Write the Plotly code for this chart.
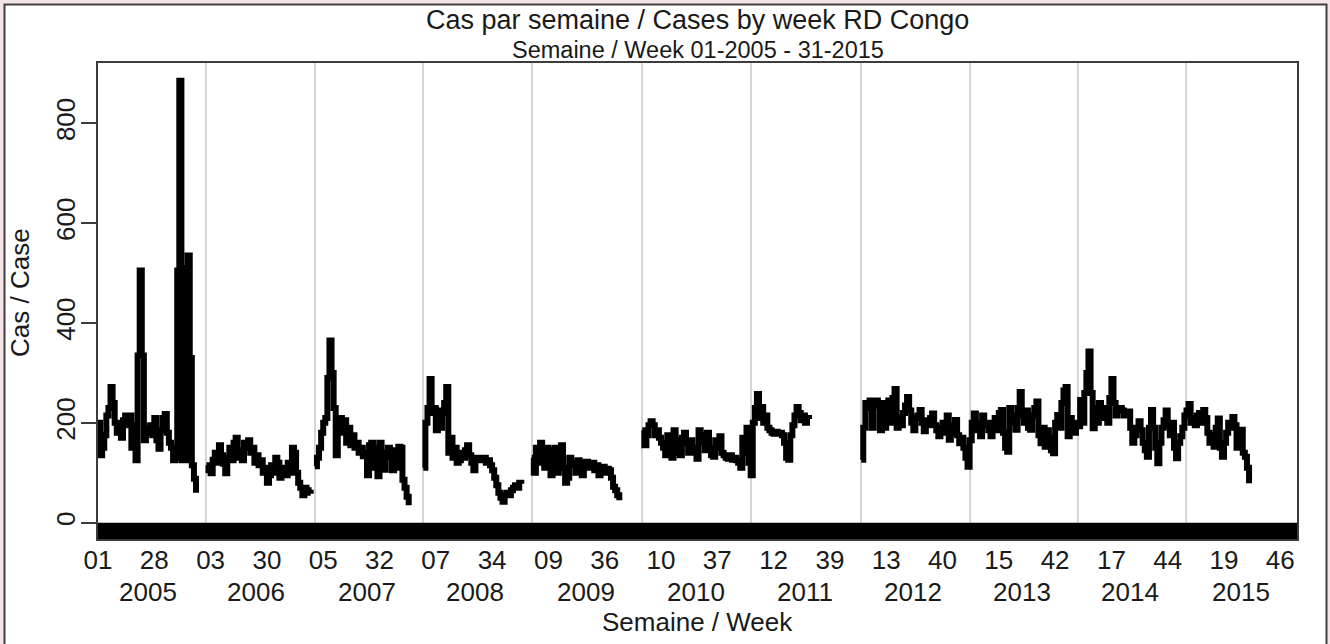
import plotly.graph_objects as go

# ---------------- data ----------------
years = ["2005", "2006", "2007", "2008", "2009", "2010",
         "2011", "2012", "2013", "2014", "2015"]
year_start_week = [0, 52, 104, 156, 208, 261, 313, 366, 418, 470, 522]
year_label_week = [24, 76, 129, 181, 234, 287, 339, 391, 443, 495, 548]

week_tick_pos = [0, 27, 54, 81, 108, 135, 162, 189, 216, 243, 270,
                 297, 324, 351, 378, 405, 432, 459, 486, 513, 540, 567]
week_tick_text = ["01", "28", "03", "30", "05", "32", "07", "34", "09", "36", "10",
                  "37", "12", "39", "13", "40", "15", "42", "17", "44", "19", "46"]

cases_2005 = [200, 135, 150, 175, 215, 230, 272, 240, 200, 180,
              200, 170, 205, 215, 195, 215, 150, 195, 125, 335,
              505, 335, 165, 190, 180, 195, 175, 210, 165, 148,
              185, 210, 218, 180, 160, 150, 125, 130, 505, 885,
              125, 510, 125, 535, 330, 115, 88, 60, None, None, None, None]
cases_2006 = [115, 105, 99, 126, 140, 120, 155, 135, 118, 99,
              130, 150, 125, 160, 170, 130, 145, 125, 160, 150,
              165, 140, 150, 120, 135, 115, 125, 100, 110, 80,
              95, 115, 100, 130, 120, 90, 105, 110, 95, 120,
              100, 150, 140, 100, 80, 70, 55, 70, 65, 60,
              58, None]
cases_2007 = [113, 130, 150, 180, 200, 210, 290, 365, 300, 230,
              135, 200, 210, 180, 205, 160, 190, 155, 175, 150,
              160, 140, 150, 133, 140, 95, 155, 160, 110, 150,
              93, 160, 120, 106, 140, 150, 132, 105, 145, 110,
              152, 150, 86, 70, 52, 35, None, None, None, None, None, None]
cases_2008 = [110, 200, 230, 288, 220, 230, 185, 225, 190, 220,
              240, 272, 140, 170, 130, 150, 120, 125, 140, 130,
              145, 155, 135, 120, 105, 130, 125, 130, 125, 130,
              120, 125, 115, 105, 90, 75, 60, 50, 42, 55,
              60, 55, 65, 70, 75, 70, 80, 78, None, None, None, None]
cases_2009 = [130, 100, 150, 120, 160, 145, 110, 150, 140, 95,
              145, 150, 100, 150, 155, 110, 80, 90, 130, 115,
              120, 100, 125, 118, 95, 120, 122, 110, 118, 120,
              105, 115, 95, 110, 112, 100, 108, 105, 90, 72,
              65, 55, 45, None, None, None, None, None, None, None,
              None, None, None]
cases_2010 = [185, 155, 175, 195, 203, 195, 175, 185, 170, 160,
              150, 135, 175, 140, 130, 185, 165, 140, 135, 170,
              180, 160, 140, 165, 150, 140, 128, 185, 160, 175,
              145, 180, 150, 135, 132, 165, 150, 173, 140, 135,
              130, 128, 135, 126, 130, 125, 120, 110, 170, 140,
              190, 120]
cases_2011 = [95, 200, 230, 258, 210, 232, 200, 215, 190, 185,
              180, 178, 182, 178, 180, 175, 160, 130, 126, 175,
              195, 215, 232, 220, 205, 215, 200, 210, 208, None,
              None, None, None, None, None, None, None, None, None, None,
              None, None, None, None, None, None, None, None, None, None,
              None, None, None]
cases_2012 = [126, 190, 240, 230, 245, 190, 240, 245, 235, 185,
              240, 190, 230, 245, 200, 250, 268, 190, 210, 195,
              220, 235, 252, 225, 200, 185, 210, 215, 226, 200,
              183, 205, 195, 210, 219, 195, 185, 173, 190, 200,
              180, 215, 166, 195, 180, 206, 175, 159, 170, 150,
              130, 112]
cases_2013 = [165, 200, 219, 185, 200, 173, 215, 195, 200, 185,
              173, 200, 210, 185, 220, 226, 180, 150, 142, 230,
              215, 200, 186, 230, 262, 215, 200, 225, 190, 186,
              215, 230, 243, 175, 159, 190, 152, 185, 170, 145,
              139, 200, 216, 190, 240, 265, 272, 173, 210, 195,
              180, 200]
cases_2014 = [193, 246, 200, 260, 300, 343, 260, 189, 230, 200,
              240, 210, 220, 230, 200, 250, 288, 240, 215, 225,
              230, 225, 215, 220, 223, 190, 160, 175, 190, 203,
              185, 160, 145, 132, 190, 226, 190, 150, 119, 160,
              190, 205, 225, 195, 175, 200, 150, 129, 160, 173,
              190, 215]
cases_2015 = [225, 238, 200, 210, 195, 215, 220, 200, 226, 210,
              180, 160, 175, 152, 190, 209, 150, 132, 160, 180,
              200, 190, 212, 195, 150, 170, 186, 140, 132, 110,
              79]

y_tick_vals = [0, 200, 400, 600, 800]

# ---------------- build ----------------
cases = (cases_2005 + cases_2006 + cases_2007 + cases_2008 + cases_2009 +
         cases_2010 + cases_2011 + cases_2012 + cases_2013 + cases_2014 +
         cases_2015)
weeks = list(range(len(cases)))

W, H = 1330, 644
L, R, T, B = 98, 33, 63, 105
PW, PH = W - L - R, H - T - B


def px_x(px):
    return (px - L) / PW


def px_y(py):
    return (H - B - py) / PH


FONT = "Liberation Sans, Arial, sans-serif"
TXT = "#1a1a1a"
FRAME = "#3c3c3c"

fig = go.Figure()
fig.add_trace(go.Scatter(
    x=weeks, y=cases, mode="lines",
    line=dict(color="black", width=6, shape="hv"),
    connectgaps=False, hoverinfo="skip", showlegend=False,
))

shapes = [
    # outer white panel with dark border
    dict(type="rect", xref="paper", yref="paper",
         x0=px_x(4.5), x1=px_x(1326.5), y0=px_y(700), y1=px_y(4.5),
         fillcolor="white", line=dict(color="#404040", width=2), layer="below"),
    # black baseline band below zero
    dict(type="rect", xref="paper", yref="y",
         x0=0, x1=1, y0=-60, y1=0,
         fillcolor="black", line=dict(width=0), layer="above"),
]

annotations = [
    dict(text="Cas par semaine / Cases by week RD Congo", xref="paper", yref="paper",
         x=0.5, y=px_y(20), xanchor="center", yanchor="middle", showarrow=False,
         font=dict(size=27, color=TXT, family=FONT)),
    dict(text="Semaine / Week 01-2005 - 31-2015", xref="paper", yref="paper",
         x=0.5, y=px_y(50), xanchor="center", yanchor="middle", showarrow=False,
         font=dict(size=23.5, color=TXT, family=FONT)),
    dict(text="Semaine / Week", xref="paper", yref="paper",
         x=0.5, y=px_y(622), xanchor="center", yanchor="middle", showarrow=False,
         font=dict(size=26, color=TXT, family=FONT)),
    dict(text="Cas / Case", xref="paper", yref="paper", textangle=-90,
         x=px_x(20), y=px_y(292), xanchor="center", yanchor="middle", showarrow=False,
         font=dict(size=26, color=TXT, family=FONT)),
]
for yl, wk in zip(years, year_label_week):
    annotations.append(dict(
        text=yl, xref="x", yref="paper", x=wk, y=px_y(592),
        xanchor="center", yanchor="middle", showarrow=False,
        font=dict(size=26, color=TXT, family=FONT)))

fig.update_layout(
    width=W, height=H,
    margin=dict(l=L, r=R, t=T, b=B, pad=0),
    paper_bgcolor="#f3e5e5",
    plot_bgcolor="white",
    font=dict(family=FONT, color=TXT, size=26),
    shapes=shapes,
    annotations=annotations,
    showlegend=False,
    xaxis=dict(
        range=[0, 575], tickmode="array", tickvals=week_tick_pos, ticktext=week_tick_text,
        ticks="", showgrid=False, zeroline=False,
        showline=True, mirror=True, linecolor=FRAME, linewidth=2,
        tickfont=dict(size=26, color=TXT, family=FONT),
        ticklabelstandoff=-3,
        minor=dict(tickmode="array", tickvals=year_start_week[1:], showgrid=True,
                   gridcolor="#d4d4d4", gridwidth=1.5, ticks=""),
    ),
    yaxis=dict(
        range=[-32.6, 920.8], tickmode="array", tickvals=y_tick_vals,
        ticks="outside", ticklen=15, tickwidth=1.5, tickcolor=FRAME,
        tickangle=-90, showgrid=False, zeroline=False,
        showline=True, mirror=True, linecolor=FRAME, linewidth=2,
        tickfont=dict(size=26, color=TXT, family=FONT),
        ticklabelstandoff=-4,
    ),
)

fig.write_html(
    "out.html",
    config={"displayModeBar": False},
    post_script="document.body.style.margin='0';document.body.style.overflow='hidden';",
)
